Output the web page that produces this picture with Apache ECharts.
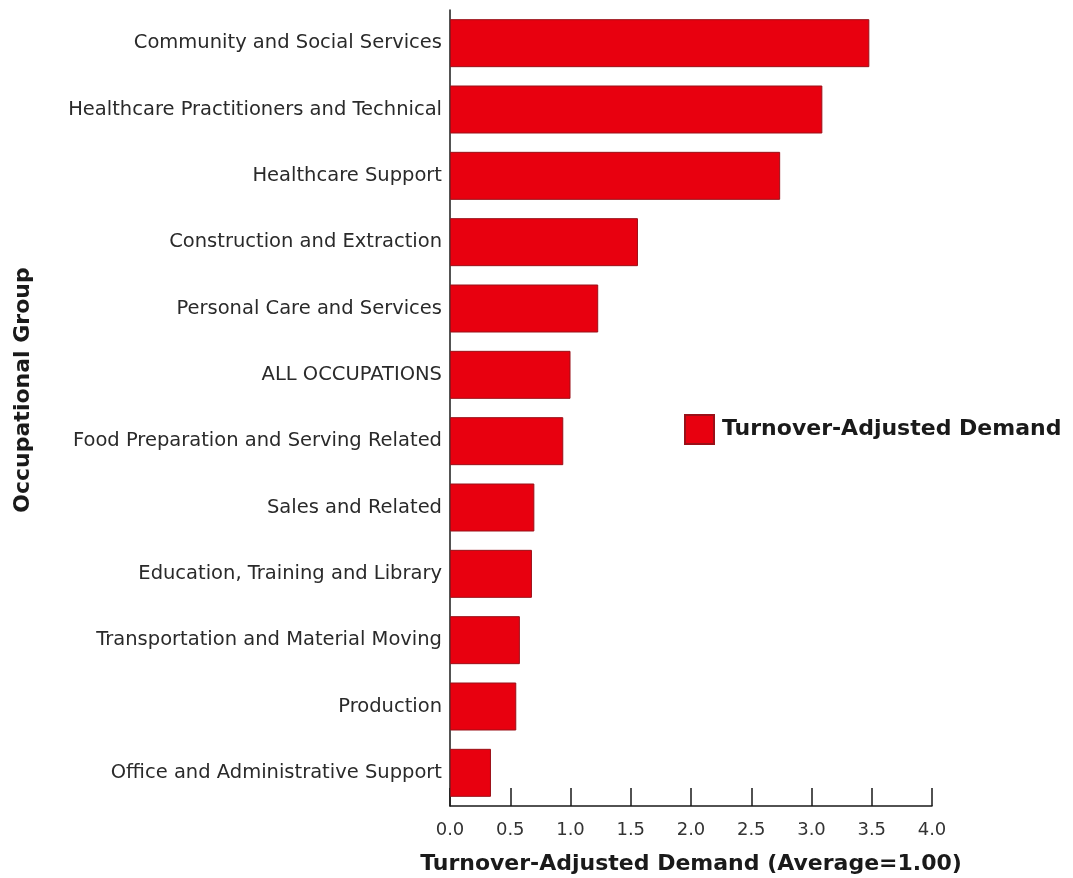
<!DOCTYPE html>
<html>
<head>
<meta charset="utf-8">
<script src="https://cdn.jsdelivr.net/npm/echarts@6/dist/echarts.min.js"></script>
<style>
  html, body { margin: 0; padding: 0; background: #ffffff; }
  #chart { width: 1073px; height: 878px; }
</style>
</head>
<body>
<div id="chart"></div>
<script>
// Occupational groups, top to bottom as drawn
const categories = [
  'Community and Social Services',
  'Healthcare Practitioners and Technical',
  'Healthcare Support',
  'Construction and Extraction',
  'Personal Care and Services',
  'ALL OCCUPATIONS',
  'Food Preparation and Serving Related',
  'Sales and Related',
  'Education, Training and Library',
  'Transportation and Material Moving',
  'Production',
  'Office and Administrative Support'
];

// Turnover-adjusted demand index (average = 1.00)
const demand = [3.48, 3.09, 2.74, 1.56, 1.23, 1.00, 0.94, 0.70, 0.68, 0.58, 0.55, 0.34];

const seriesName = 'Turnover-Adjusted Demand';
const xAxisTitle = 'Turnover-Adjusted Demand (Average=1.00)';
const yAxisTitle = 'Occupational Group';

const FONT = '"DejaVu Sans", "Liberation Sans", sans-serif';

const chart = echarts.init(document.getElementById('chart'), null, { renderer: 'canvas' });

chart.setOption({
  backgroundColor: '#ffffff',
  animation: false,
  grid: { left: 450, right: 141, top: 10, bottom: 72, containLabel: false, outerBoundsMode: 'none' },
  legend: {
    data: [seriesName],
    left: 684,
    top: 414,
    padding: 0,
    icon: 'rect',
    itemWidth: 29,
    itemHeight: 29,
    itemGap: 10,
    textStyle: { fontFamily: FONT, fontWeight: 'bold', fontSize: 22, color: '#1a1a1a', padding: [0, 0, 0, 3] }
  },
  // vertical title for the category axis
  graphic: [{
    type: 'text',
    x: 23,
    y: 390,
    rotation: Math.PI / 2,
    style: {
      text: yAxisTitle,
      fontFamily: FONT,
      fontWeight: 'bold',
      fontSize: 22,
      fill: '#1a1a1a',
      textAlign: 'center',
      textVerticalAlign: 'middle'
    }
  }],
  xAxis: {
    type: 'value',
    min: 0,
    max: 4,
    interval: 0.5,
    name: xAxisTitle,
    nameLocation: 'middle',
    nameGap: 47,
    nameTextStyle: { fontFamily: FONT, fontWeight: 'bold', fontSize: 22, color: '#1a1a1a' },
    axisLine: { show: true, lineStyle: { color: '#1a1a1a', width: 1.5 } },
    axisTick: { show: true, inside: true, length: 18, lineStyle: { color: '#1a1a1a', width: 1.5 } },
    axisLabel: {
      fontFamily: FONT, fontSize: 18, color: '#333333', margin: 15,
      formatter: v => v.toFixed(1)
    },
    splitLine: { show: false }
  },
  yAxis: {
    type: 'category',
    inverse: true,
    data: categories,
    axisLine: { show: true, lineStyle: { color: '#1a1a1a', width: 1.5 } },
    axisTick: { show: false },
    axisLabel: { fontFamily: FONT, fontSize: 19.5, color: '#2a2a2a', margin: 8 },
    splitLine: { show: false }
  },
  series: [{
    name: seriesName,
    type: 'bar',
    data: demand,
    barWidth: 48,
    itemStyle: { color: '#e8000f', borderColor: '#9a1018', borderWidth: 1 }
  }]
});
</script>
</body>
</html>
